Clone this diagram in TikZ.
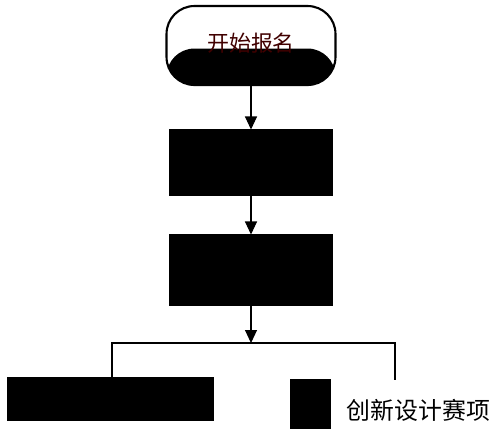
\documentclass[tikz,border=0pt]{standalone}
\usepackage{fontspec}
\newfontfamily\cjk{Noto Sans CJK SC}
\usetikzlibrary{arrows.meta}
\begin{document}
\begin{tikzpicture}
            [x=0.02cm, y=-0.02cm, line width=0.6pt,
            startnode/.style={draw=black, line width=1.2pt, rounded corners=0.56cm, minimum width=3.38cm, minimum height=1.58cm, inner sep=0pt,
                path picture={\fill[black] ([yshift=-0.06cm]path picture bounding box.west) rectangle (path picture bounding box.south east);}},
            blackbox/.style={draw=black, fill=black, inner sep=0pt},
            label/.style={font=\cjk\fontsize{13.6pt}{15pt}\selectfont, inner sep=0pt, anchor=west},
            flow/.style={-{Triangle[width=2.4mm,length=2.6mm]}}]

            \useasboundingbox (0,0) rectangle (496,434);

            \node[startnode] (start) at (251,45.5) {};
            \node[font=\cjk\fontsize{12.5pt}{13pt}\selectfont, text=black!75!red, inner sep=0pt] (starttext) at (251,43) {开始报名};
            \node[blackbox, minimum width=3.26cm, minimum height=1.3cm] (box1) at (251,162.5) {};
            \node[blackbox, minimum width=3.26cm, minimum height=1.4cm] (box2) at (251,270) {};
            \node[blackbox, minimum width=4.1cm, minimum height=0.84cm] (left) at (110.5,399) {};
            \node[blackbox, minimum width=0.78cm, minimum height=0.96cm] (small) at (310.5,404) {};
            \node[label] (contest) at (346,410) {创新设计赛项};

            \coordinate (split) at (251,343);
            \coordinate (lt) at (112,378);
            \coordinate (rt) at (395,380);

            \draw[flow] (start) -- (box1);
            \draw[flow] (box1) -- (box2);
            \draw[flow] (box2) -- (split);
            \draw (split) -| (lt);
            \draw (split) -| (rt);

        \end{tikzpicture}
\end{document}
